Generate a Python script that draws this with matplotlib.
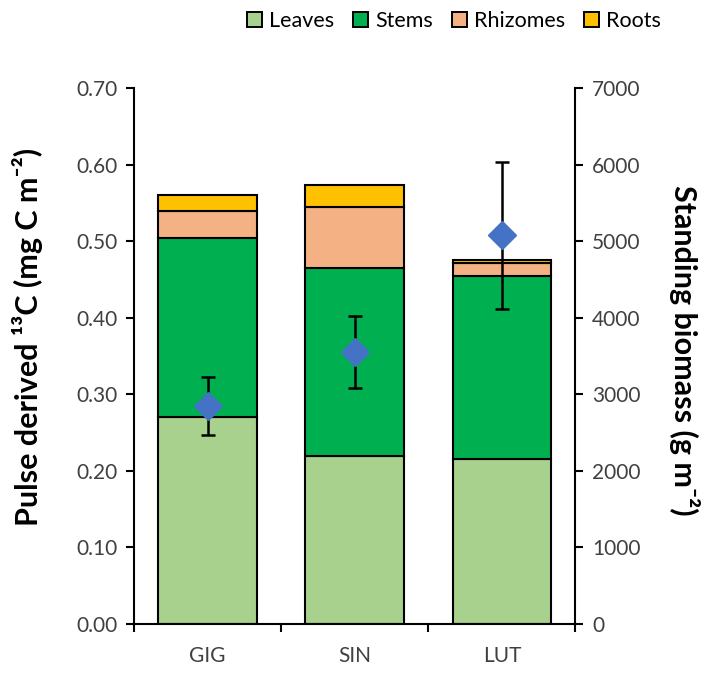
import matplotlib.pyplot as plt
import numpy as np
from matplotlib.patches import Patch

plt.rcParams['font.family'] = ['Lato', 'DejaVu Sans']

# pulse derived 13C per plant organ (mg C m-2)
sites = ['GIG', 'SIN', 'LUT']
leaves = [0.271, 0.220, 0.215]
stems = [0.234, 0.245, 0.240]
rhizomes = [0.035, 0.080, 0.017]
roots = [0.020, 0.028, 0.004]

# standing biomass (g m-2) with error
biomass = [2850, 3550, 5080]
biomass_err = [380, 470, 960]

organs = ['Leaves', 'Stems', 'Rhizomes', 'Roots']
colors = ['#A9D18E', '#00B050', '#F4B183', '#FFC000']

fig = plt.figure(figsize=(7.06, 6.79), dpi=100)
ax = fig.add_axes([0.190, 0.081, 0.625, 0.789])

x = np.arange(len(sites))
bottom = np.zeros(len(sites))
for vals, c in zip([leaves, stems, rhizomes, roots], colors):
    ax.bar(x, vals, width=0.67, bottom=bottom, color=c, edgecolor='black',
           linewidth=1.5, zorder=2)
    bottom += np.array(vals)

ax.set_xlim(-0.5, 2.5)
ax.set_ylim(0, 0.70)
ax.set_yticks(np.arange(0, 0.71, 0.10))
ax.set_yticklabels([f'{v:.2f}' for v in np.arange(0, 0.71, 0.10)])
ax.set_xticks(x)
ax.set_xticklabels(sites)
ax.set_xticks([-0.5, 0.5, 1.5, 2.5], minor=True)
ax.tick_params(axis='x', which='major', length=0, pad=16, labelsize=15, colors='#404040')
ax.tick_params(axis='x', which='minor', length=6, width=1.5, direction='out')
ax.tick_params(axis='y', length=6, width=1.5, direction='out', labelsize=15,
               labelcolor='#404040', pad=6)
for s in ['top', 'right']:
    ax.spines[s].set_visible(False)
for s in ['left', 'bottom']:
    ax.spines[s].set_linewidth(1.5)
ax.set_ylabel('Pulse derived ¹³C (mg C m⁻²)', fontsize=22,
              fontweight='bold', labelpad=24)
ax.yaxis.label.set_y(0.535)

ax2 = ax.twinx()
ax2.set_ylim(0, 7000)
ax2.set_yticks(np.arange(0, 7001, 1000))
ax2.tick_params(axis='y', length=6, width=1.5, direction='out', labelsize=15,
                labelcolor='#404040', pad=6)
for s in ['top', 'left', 'bottom']:
    ax2.spines[s].set_visible(False)
ax2.spines['right'].set_linewidth(1.5)
ax2.set_ylabel('Standing biomass (g m⁻²)', fontsize=22, fontweight='bold',
               rotation=270, labelpad=43)
ax2.yaxis.label.set_y(0.51)
ax2.errorbar(x, biomass, yerr=biomass_err, fmt='D', color='#4472C4',
             markersize=14.5, ecolor='black', elinewidth=1.8, capsize=5,
             capthick=1.8, markeredgecolor='#4472C4', zorder=3)

handles = [Patch(facecolor=c, edgecolor='black', linewidth=1.4, label=o)
           for o, c in zip(organs, colors)]
fig.legend(handles=handles, loc='upper right', bbox_to_anchor=(0.963, 1.012),
           ncol=4, frameon=False, fontsize=15.5, handlelength=0.7,
           handleheight=0.7, handletextpad=0.3, columnspacing=0.9)

fig.savefig('out.png', dpi=100)
